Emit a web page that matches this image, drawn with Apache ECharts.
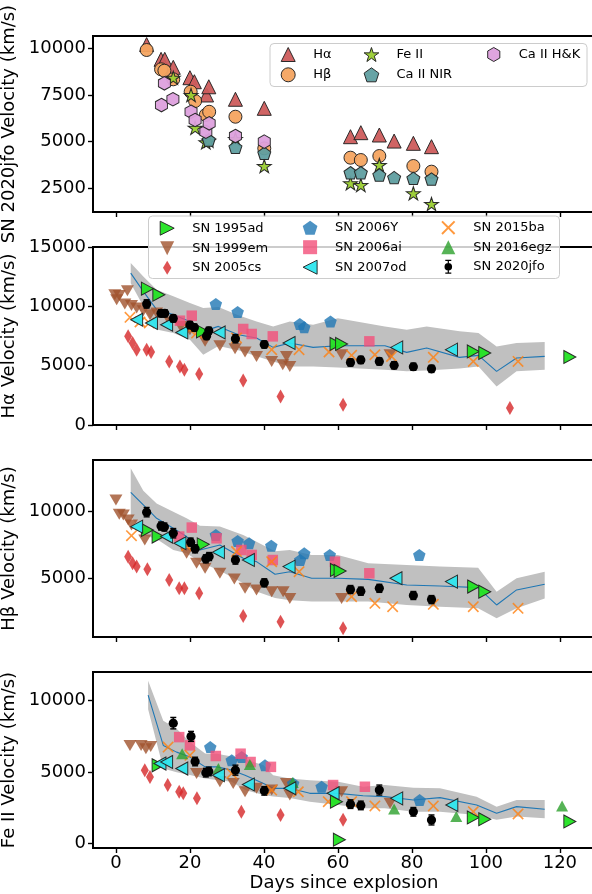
<!DOCTYPE html>
<html>
<head>
<meta charset="utf-8">
<script src="https://cdn.jsdelivr.net/npm/echarts@6/dist/echarts.min.js"></script>
<style>
  html, body { margin: 0; padding: 0; background: #fff; }
  #chart { width: 592px; height: 894px; }
</style>
</head>
<body>
<div id="chart"></div>
<script>
// ---------- SN 2020jfo line velocities (km/s) ----------
const jfoHaDays = [8.3, 12.2, 13.2, 15.5, 20.0, 21.2, 24.5, 25.1, 32.3, 40.1, 63.4, 66.2, 71.2, 75.2, 80.4, 85.3];
const jfoHaVel  = [10200, 9410, 9410, 8980, 8425, 8210, 7500, 7940, 7270, 6785, 5265, 5480, 5355, 5030, 4910, 4730];
const jfoHaErr  = [350, 300, 300, 300, 300, 300, 300, 300, 350, 300, 300, 300, 300, 300, 300, 300];

const jfoHbDays = [8.3, 12.2, 13.1, 15.5, 20.2, 21.4, 24.3, 25.2, 32.3, 40.1, 63.4, 66.2, 71.2, 80.4, 85.3];
const jfoHbVel  = [9910, 8875, 8800, 8340, 7675, 7175, 6430, 6600, 6335, 4640, 4140, 4015, 4230, 3695, 3390];
const jfoHbErr  = [350, 300, 300, 350, 300, 300, 300, 300, 300, 300, 300, 300, 300, 300, 300];

const jfoFeDays = [15.5, 20.3, 21.4, 24.3, 25.1, 32.3, 40.1, 63.4, 66.2, 71.2, 80.4, 85.3];
const jfoFeVel  = [8425, 7500, 5745, 4965, 5050, 5140, 3695, 2765, 2675, 3750, 2230, 1660];
const jfoFeErr  = [400, 350, 300, 300, 300, 350, 300, 300, 300, 350, 300, 350];

const jfoNirDays = [25.1, 32.3, 40.1, 63.4, 66.2, 71.2, 75.2, 80.4, 85.3];
const jfoNirVel  = [5090, 4695, 4375, 3335, 3335, 3210, 3070, 3035, 3000];

const jfoHkDays = [12.3, 13.1, 15.4, 20.3, 21.4, 24.3, 25.2, 32.3, 40.1];
const jfoHkVel  = [6960, 8125, 7270, 6600, 6160, 5530, 5980, 5300, 5000];

// ---------- comparison sample: Hα ----------
const sn1995adHaDays = [8.5, 11.6, 23.4, 59.5, 61.0, 96.6, 99.7, 122.7];
const sn1995adHaVel  = [11490, 10980, 7890, 6830, 6830, 6200, 6070, 5730];
const sn1999emHaDays = [-0.3, 0.9, 3.1, 0.2, 2.4, 4.2, 5.6, 7.4, 9.2, 11.0, 14.6, 17.5, 20.0, 24.1, 28.1, 32.2, 34.9, 38.0, 42.1, 45.1, 46.1, 47.0, 61.0, 74.1];
const sn1999emHaVel  = [10980, 10920, 11320, 10560, 10200, 10080, 9860, 9630, 9300, 9440, 8680, 8310, 8030, 7050, 6680, 6430, 6150, 5780, 5360, 5080, 5780, 4940, 5920, 5920];
const sn2005csHaDays = [3.3, 4.5, 5.6, 8.3, 9.5, 14.4, 17.3, 18.5, 22.5, 34.4, 44.5, 61.4, 106.5];
const sn2005csHaVel  = [7470, 6910, 6350, 6350, 6150, 5360, 4940, 4660, 4300, 3760, 2410, 1710, 1430];
const sn2006YHaDays  = [27.0, 32.9, 49.7, 50.9, 58.0];
const sn2006YHaVel   = [10200, 9520, 8510, 8230, 8730];
const sn2006aiHaDays = [17.3, 20.5, 34.4, 36.7, 42.4, 68.5];
const sn2006aiHaVel  = [8790, 9210, 8090, 7670, 7470, 7050];
const sn2007odHaDays = [5.6, 9.6, 13.7, 17.8, 27.9, 46.8, 75.9, 90.7];
const sn2007odHaVel  = [8870, 8600, 8450, 7800, 7800, 6910, 6540, 6350];
const sn2015baHaDays = [3.8, 6.5, 9.0, 20.0, 21.8, 32.6, 42.1, 49.5, 57.6, 63.7, 70.0, 74.5, 85.8, 96.6, 108.7];
const sn2015baHaVel  = [9070, 8680, 8600, 8030, 7750, 7330, 6350, 6350, 6150, 5870, 5920, 5780, 5700, 5360, 5360];

// ---------- comparison sample: Hβ ----------
const sn1995adHbDays = [8.5, 11.4, 23.6, 59.6, 60.6, 96.7, 99.7];
const sn1995adHbVel  = [8580, 8090, 7510, 5600, 5520, 4360, 3980];
const sn1999emHbDays = [0.0, 0.9, 2.0, 3.3, 4.2, 7.8, 19.1, 21.8, 24.1, 28.1, 32.0, 34.9, 38.0, 42.1, 45.2, 47.0, 61.0];
const sn1999emHbVel  = [10820, 9750, 9700, 9330, 8960, 7840, 6840, 6100, 5720, 5350, 4930, 4230, 4110, 3980, 3980, 3480, 3480];
const sn2005csHbDays = [3.3, 4.5, 5.6, 8.5, 14.4, 17.1, 18.5, 22.5, 34.4, 44.5, 61.4];
const sn2005csHbVel  = [6590, 6100, 5850, 5650, 4850, 4230, 4230, 3860, 2170, 1740, 1250];
const sn2006YHbDays  = [27.0, 32.9, 36.0, 42.0, 49.8, 50.9, 57.8, 82.0];
const sn2006YHbVel   = [8210, 7760, 7590, 7410, 6340, 6840, 6720, 6720];
const sn2006aiHbDays = [17.1, 20.5, 27.2, 33.9, 36.7, 42.4, 59.2, 68.5];
const sn2006aiHbVel  = [8090, 8760, 7960, 7090, 6720, 6340, 6220, 5350];
const sn2007odHbDays = [5.6, 13.7, 17.3, 27.7, 35.8, 46.8, 75.7, 90.7];
const sn2007odHbVel  = [8830, 8090, 7590, 6920, 6340, 5850, 4980, 4730];
const sn2015baHbDays = [4.2, 19.1, 32.6, 42.1, 49.5, 63.7, 70.0, 74.8, 85.8, 96.6, 108.7];
const sn2015baHbVel  = [8160, 7410, 6970, 6220, 5470, 3610, 3110, 2860, 3040, 2860, 2740];

// ---------- comparison sample: Fe II ----------
const sn1995adFeDays = [11.4, 59.6, 60.4, 96.6, 99.7, 122.7];
const sn1995adFeVel  = [5480, 2940, 280, 1830, 1710, 1550];
const sn1999emFeDays = [3.8, 6.8, 8.1, 9.4, 21.8, 28.1, 31.7, 34.9, 38.0, 42.1, 46.1, 47.0, 61.0, 74.1];
const sn1999emFeVel  = [6870, 6870, 6640, 6800, 4900, 4330, 4210, 3630, 3870, 3750, 4210, 3400, 3630, 2820];
const sn2005csFeDays = [7.8, 9.2, 14.0, 17.1, 18.2, 21.9, 33.9, 44.5, 61.4];
const sn2005csFeVel  = [5140, 4670, 4100, 3630, 3520, 3170, 2240, 2010, 1670];
const sn2006YFeDays  = [25.5, 31.3, 34.0, 40.3, 47.9, 55.6, 82.1];
const sn2006YFeVel   = [6750, 5830, 6060, 5480, 4210, 3980, 3050];
const sn2006aiFeDays = [17.1, 20.0, 27.0, 33.7, 36.4, 41.9, 58.7, 67.3];
const sn2006aiFeVel  = [7450, 6870, 6130, 6290, 5710, 5370, 4100, 3980];
const sn2007odFeDays = [11.9, 13.7, 17.8, 27.7, 35.8, 47.0, 58.7, 75.9, 90.8];
const sn2007odFeVel  = [5600, 5710, 5250, 4790, 4140, 3870, 3520, 3170, 2710];
const sn2015baFeDays = [14.1, 20.0, 31.3, 42.1, 49.3, 57.4, 63.7, 70.0, 85.8, 96.6, 108.7];
const sn2015baFeVel  = [6750, 6180, 4910, 3750, 3630, 2940, 2940, 2640, 2640, 2240, 2080];
const sn2016egzFeDays = [17.9, 27.7, 36.2, 47.8, 75.2, 92.0, 120.6];
const sn2016egzFeVel  = [6290, 5250, 5530, 4280, 2430, 1900, 2640];

// ---------- sample mean and spread ----------
const haBandDays = [4, 7.4, 11, 15.5, 20, 23.6, 27.7, 33.1, 38, 42.5, 47, 53.3, 60, 72.7, 78.6, 84, 92.9, 98, 102.9, 108.3, 115.9];
const haBandMean = [12800, 11260, 9720, 9300, 8730, 7890, 8310, 7610, 7330, 6540, 6910, 6540, 6680, 6680, 6120, 6490, 5700, 5870, 4520, 5650, 5780];
const haBandHigh = [13650, 12520, 11400, 10840, 10280, 9860, 9950, 9250, 8730, 8310, 8730, 8450, 9000, 8310, 8030, 8310, 7900, 7750, 6620, 6910, 6990];
const haBandLow  = [11950, 10000, 8050, 7750, 7190, 5920, 6650, 6300, 5800, 5360, 4940, 4940, 4850, 4660, 4520, 4600, 4760, 4940, 3250, 4520, 4660];

const hbBandDays = [4, 7.4, 11, 15.5, 19.1, 22.7, 28.1, 34.4, 38, 43, 47, 52.9, 60, 68.2, 78.6, 87.6, 97.9, 102.9, 108.3, 115.9];
const hbBandMean = [11390, 10450, 9450, 8710, 8090, 7090, 7460, 6470, 6220, 5280, 5470, 4980, 4980, 4900, 4480, 4400, 4280, 2990, 4110, 4530];
const hbBandHigh = [13180, 11500, 10550, 9950, 9450, 8900, 8850, 8210, 7700, 7000, 7090, 6720, 6720, 6100, 5970, 5850, 5770, 3980, 4980, 5470];
const hbBandLow  = [9600, 8200, 7900, 7090, 6850, 6200, 5550, 4600, 4000, 3500, 3350, 3240, 3240, 3240, 2990, 2860, 2740, 1990, 2740, 3480];

const feBandDays = [8.7, 12.8, 16.4, 20, 24.1, 27.3, 31.3, 34.9, 39.9, 42.5, 47, 52.4, 60.1, 66.8, 72.7, 80.4, 87.6, 97.5, 102.9, 108.3, 115.9];
const feBandMean = [10390, 6870, 6400, 6060, 5370, 5370, 5140, 4790, 4210, 3870, 3870, 3520, 3520, 3350, 3290, 3050, 3220, 2710, 2130, 2590, 2410];
const feBandHigh = [11380, 8600, 8030, 7100, 6300, 6290, 6100, 5900, 5480, 4790, 4560, 4440, 4330, 3980, 4100, 3910, 3870, 3290, 2590, 3050, 3050];
const feBandLow  = [9400, 5250, 5000, 4800, 4560, 4450, 4330, 3750, 3400, 3300, 3200, 2940, 2710, 2480, 2480, 2240, 2240, 2010, 1670, 1900, 1780];

// ---------- axis ticks ----------
const dayTicks   = [0, 20, 40, 60, 80, 100, 120];
const topTicks   = [2500, 5000, 7500, 10000];
const haTicks    = [0, 5000, 10000, 15000];
const hbTicks    = [5000, 10000];
const feTicks    = [0, 5000, 10000];

// ---------- marker shapes ----------
const SYM = {
  triUp: 'path://M5,0L10,10L0,10Z',
  triDown: 'path://M0,0L10,0L5,10Z',
  triRight: 'path://M0,0L10,5L0,10Z',
  triLeft: 'path://M10,0L0,5L10,10Z',
  thinDiamond: 'path://M3,0L6,5L3,10L0,5Z',
  square: 'path://M0,0L10,0L10,10L0,10Z',
  pentagon: 'path://M5,0L9.755,3.455L7.939,9.045L2.061,9.045L0.245,3.455Z',
  hexagon: 'path://M5,0L9.33,2.5L9.33,7.5L5,10L0.67,7.5L0.67,2.5Z',
  star: 'path://M5,0L6.12,3.455L9.755,3.455L6.815,5.59L7.939,9.045L5,6.91L2.061,9.045L3.185,5.59L0.245,3.455L3.88,3.455Z',
  cross: 'path://M0,1L1,0L5,4L9,0L10,1L6,5L10,9L9,10L5,6L1,10L0,9L4,5Z',
  errbar: 'path://M4.4,0L5.6,0L5.6,14L4.4,14Z M2,0L8,0L8,1.2L2,1.2Z M2,12.8L8,12.8L8,14L2,14Z M1.2,7A3.8,3.8,0,1,1,8.8,7A3.8,3.8,0,1,1,1.2,7Z'
};

const FONT = 'DejaVu Sans';
const pairs = (xs, ys) => xs.map((x, i) => [x, ys[i]]);

// marker style per object
const STYLE = {
  'Hα':        { sym: SYM.triUp,    size: [14, 14], color: '#cd5c5c', opacity: 0.95, border: true },
  'Hβ':        { sym: 'circle',     size: 13,       color: '#f4a460', opacity: 0.95, border: true },
  'Fe II':     { sym: SYM.star,     size: [14, 13.3], color: '#9acd32', opacity: 0.95, border: true },
  'Ca II NIR': { sym: SYM.pentagon, size: [13, 12.4], color: '#5f9ea0', opacity: 0.95, border: true },
  'Ca II H&K': { sym: SYM.hexagon,  size: [12, 13.5], color: '#dda0dd', opacity: 0.95, border: true },
  'SN 1995ad': { sym: SYM.triRight, size: [12, 13], color: '#22e322', opacity: 0.95, border: true },
  'SN 1999em': { sym: SYM.triDown,  size: [13, 11], color: '#a0522d', opacity: 0.8 },
  'SN 2005cs': { sym: SYM.thinDiamond, size: [8, 14], color: '#d62728', opacity: 0.8 },
  'SN 2006Y':  { sym: SYM.pentagon, size: [12.5, 12], color: '#1f77b4', opacity: 0.8 },
  'SN 2006ai': { sym: SYM.square,   size: [10.5, 10.5], color: '#f24f79', opacity: 0.8 },
  'SN 2007od': { sym: SYM.triLeft,  size: [12, 13], color: '#2ee6ee', opacity: 0.95, border: true },
  'SN 2015ba': { sym: SYM.cross,    size: [11.5, 11.5], color: '#ff7f0e', opacity: 0.8 },
  'SN 2016egz':{ sym: SYM.triUp,    size: [12, 11], color: '#2ca02c', opacity: 0.8 }
};

function scatter(name, days, vel, gi) {
  const s = STYLE[name];
  return {
    type: 'scatter', name: name, xAxisIndex: gi, yAxisIndex: gi,
    data: pairs(days, vel), symbol: s.sym, symbolSize: s.size,
    itemStyle: {
      color: s.color, opacity: s.opacity,
      borderColor: s.border ? '#222' : undefined,
      borderWidth: s.border ? 1 : 0
    },
    emphasis: { disabled: true }, silent: true, z: 3
  };
}

function band(days, lo, hi, gi) {
  return {
    type: 'custom', xAxisIndex: gi, yAxisIndex: gi, silent: true, z: 1,
    data: days.map((d, i) => [d, lo[i], hi[i]]),
    encode: { x: 0, y: [1, 2] },
    renderItem: function (params, api) {
      if (params.dataIndex !== 0) return null;
      const pts = [];
      for (let i = 0; i < days.length; i++) pts.push(api.coord([days[i], hi[i]]));
      for (let i = days.length - 1; i >= 0; i--) pts.push(api.coord([days[i], lo[i]]));
      return { type: 'polygon', shape: { points: pts }, style: { fill: '#c0c0c0' } };
    }
  };
}

function meanLine(days, mean, gi) {
  return {
    type: 'line', xAxisIndex: gi, yAxisIndex: gi, data: pairs(days, mean),
    symbol: 'none', silent: true, z: 2,
    lineStyle: { color: '#1f77b4', width: 1.1 }
  };
}

function jfo(days, vel, err, gi) {
  return {
    type: 'custom', name: 'SN 2020jfo', xAxisIndex: gi, yAxisIndex: gi, z: 4, silent: true,
    data: days.map((d, i) => [d, vel[i], err[i]]),
    encode: { x: 0, y: 1 },
    itemStyle: { color: '#000' },
    renderItem: function (params, api) {
      const x = api.value(0), y = api.value(1), e = api.value(2);
      const p = api.coord([x, y]);
      const hi = api.coord([x, y + e]);
      const lo = api.coord([x, y - e]);
      const st = { stroke: '#000', lineWidth: 1.4 };
      return {
        type: 'group', children: [
          { type: 'line', shape: { x1: p[0], y1: hi[1], x2: p[0], y2: lo[1] }, style: st },
          { type: 'line', shape: { x1: p[0] - 3, y1: hi[1], x2: p[0] + 3, y2: hi[1] }, style: st },
          { type: 'line', shape: { x1: p[0] - 3, y1: lo[1], x2: p[0] + 3, y2: lo[1] }, style: st },
          { type: 'circle', shape: { cx: p[0], cy: p[1], r: 4.6 }, style: { fill: '#000' } }
        ]
      };
    }
  };
}

// ---------- layout ----------
const GRIDS = [
  { top: 36, height: 176 },
  { top: 247, height: 178 },
  { top: 460, height: 177 },
  { top: 672, height: 176 }
];
const Y_RANGES = [[1230, 10660], [0, 15000], [600, 13800], [-300, 12000]];
const Y_TICKS = [topTicks, haTicks, hbTicks, feTicks];
const Y_NAMES = ['SN 2020jfo Velocity (km/s)', 'Hα Velocity (km/s)', 'Hβ Velocity (km/s)', 'Fe II Velocity (km/s)'];

// the frame runs past the right edge of the canvas
const grid = GRIDS.map(g => ({
  left: 93, top: g.top, width: 502, height: g.height,
  outerBoundsMode: 'none', containLabel: false,
  show: true, borderColor: '#000', borderWidth: 2, backgroundColor: 'transparent'
}));

const xAxis = GRIDS.map((g, i) => ({
  type: 'value', gridIndex: i, min: -6.2, max: 129.5,
  axisLine: { show: false, onZero: false },
  splitLine: { show: false },
  axisTick: { show: true, length: 5, inside: false, customValues: dayTicks, lineStyle: { color: '#000', width: 1.4 } },
  axisLabel: {
    show: i === 3, customValues: dayTicks, margin: 6,
    color: '#000', fontSize: 18, fontFamily: FONT
  },
  name: i === 3 ? 'Days since explosion' : '',
  nameLocation: 'middle', nameGap: 26,
  nameTextStyle: { color: '#000', fontSize: 18, fontFamily: FONT }
}));

const yAxis = GRIDS.map((g, i) => ({
  type: 'value', gridIndex: i, min: Y_RANGES[i][0], max: Y_RANGES[i][1],
  axisLine: { show: false, onZero: false },
  splitLine: { show: false },
  axisTick: { show: true, length: 5, customValues: Y_TICKS[i], lineStyle: { color: '#000', width: 1.4 } },
  axisLabel: {
    customValues: Y_TICKS[i], margin: 7, color: '#000', fontSize: 18, fontFamily: FONT,
    formatter: v => String(v)
  },
  name: Y_NAMES[i], nameLocation: 'middle', nameGap: 58,
  nameTextStyle: { color: '#000', fontSize: 18, fontFamily: FONT }
}));

// ---------- series ----------
const series = [
  // SN 2020jfo, all lines
  scatter('Hα', jfoHaDays, jfoHaVel, 0),
  scatter('Hβ', jfoHbDays, jfoHbVel, 0),
  scatter('Fe II', jfoFeDays, jfoFeVel, 0),
  scatter('Ca II NIR', jfoNirDays, jfoNirVel, 0),
  scatter('Ca II H&K', jfoHkDays, jfoHkVel, 0),

  // Hα comparison
  band(haBandDays, haBandLow, haBandHigh, 1),
  meanLine(haBandDays, haBandMean, 1),
  scatter('SN 1999em', sn1999emHaDays, sn1999emHaVel, 1),
  scatter('SN 2005cs', sn2005csHaDays, sn2005csHaVel, 1),
  scatter('SN 2006Y', sn2006YHaDays, sn2006YHaVel, 1),
  scatter('SN 2006ai', sn2006aiHaDays, sn2006aiHaVel, 1),
  scatter('SN 2015ba', sn2015baHaDays, sn2015baHaVel, 1),
  scatter('SN 1995ad', sn1995adHaDays, sn1995adHaVel, 1),
  scatter('SN 2007od', sn2007odHaDays, sn2007odHaVel, 1),
  jfo(jfoHaDays, jfoHaVel, jfoHaErr, 1),

  // Hβ comparison
  band(hbBandDays, hbBandLow, hbBandHigh, 2),
  meanLine(hbBandDays, hbBandMean, 2),
  scatter('SN 1999em', sn1999emHbDays, sn1999emHbVel, 2),
  scatter('SN 2005cs', sn2005csHbDays, sn2005csHbVel, 2),
  scatter('SN 2006Y', sn2006YHbDays, sn2006YHbVel, 2),
  scatter('SN 2006ai', sn2006aiHbDays, sn2006aiHbVel, 2),
  scatter('SN 2015ba', sn2015baHbDays, sn2015baHbVel, 2),
  scatter('SN 1995ad', sn1995adHbDays, sn1995adHbVel, 2),
  scatter('SN 2007od', sn2007odHbDays, sn2007odHbVel, 2),
  jfo(jfoHbDays, jfoHbVel, jfoHbErr, 2),

  // Fe II comparison
  band(feBandDays, feBandLow, feBandHigh, 3),
  meanLine(feBandDays, feBandMean, 3),
  scatter('SN 1999em', sn1999emFeDays, sn1999emFeVel, 3),
  scatter('SN 2005cs', sn2005csFeDays, sn2005csFeVel, 3),
  scatter('SN 2006Y', sn2006YFeDays, sn2006YFeVel, 3),
  scatter('SN 2006ai', sn2006aiFeDays, sn2006aiFeVel, 3),
  scatter('SN 2015ba', sn2015baFeDays, sn2015baFeVel, 3),
  scatter('SN 2016egz', sn2016egzFeDays, sn2016egzFeVel, 3),
  scatter('SN 1995ad', sn1995adFeDays, sn1995adFeVel, 3),
  scatter('SN 2007od', sn2007odFeDays, sn2007odFeVel, 3),
  jfo(jfoFeDays, jfoFeVel, jfoFeErr, 3)
];

// ---------- legends (one column each; left = left edge of the widest icon) ----------
function legendItem(name) {
  if (name === 'SN 2020jfo') return { name: name, icon: SYM.errbar };
  const s = STYLE[name];
  return s.border ? { name: name, itemStyle: { borderWidth: 1, borderColor: '#222' } } : { name: name };
}
function legendColumn(left, top, gap, names) {
  return {
    left: left, top: top, orient: 'vertical', padding: 0,
    itemWidth: 40, itemHeight: 14, itemGap: gap,
    symbolKeepAspect: true, selectedMode: false, z: 20,
    textStyle: { color: '#000', fontSize: 13, fontFamily: FONT, lineHeight: 14 },
    data: names.map(legendItem)
  };
}
const legend = [
  legendColumn(280.7, 47, 5.3, ['Hα', 'Hβ']),
  legendColumn(363.6, 47, 5.3, ['Fe II', 'Ca II NIR']),
  legendColumn(487.2, 47, 5.3, ['Ca II H&K']),
  legendColumn(159.7, 220.7, 5.5, ['SN 1995ad', 'SN 1999em', 'SN 2005cs']),
  legendColumn(302.6, 220.7, 5.5, ['SN 2006Y', 'SN 2006ai', 'SN 2007od']),
  legendColumn(441.3, 220.7, 5.5, ['SN 2015ba', 'SN 2016egz', 'SN 2020jfo'])
];

const frameStyle = { fill: 'rgba(255,255,255,0.8)', stroke: '#cccccc', lineWidth: 1 };
const graphic = [
  { type: 'rect', silent: true, z: 15, shape: { x: 270, y: 43.5, width: 317, height: 43, r: 4 }, style: frameStyle },
  { type: 'rect', silent: true, z: 15, shape: { x: 148.5, y: 216, width: 411, height: 62.5, r: 4 }, style: frameStyle }
];

const chart = echarts.init(document.getElementById('chart'), null, { renderer: 'canvas' });
chart.setOption({
  animation: false,
  backgroundColor: '#fff',
  textStyle: { fontFamily: FONT },
  grid: grid,
  xAxis: xAxis,
  yAxis: yAxis,
  legend: legend,
  graphic: graphic,
  series: series
});
</script>
</body>
</html>
